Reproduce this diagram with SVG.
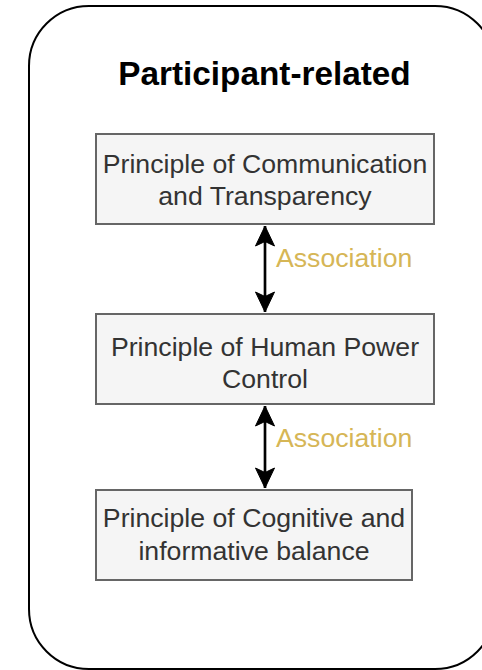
<svg xmlns="http://www.w3.org/2000/svg" width="482" height="670" viewBox="0 0 482 670">
<style>
.box{fill:#f5f5f5;stroke:#666666;stroke-width:2}
.t{font-family:"Liberation Sans",Arial,sans-serif;font-size:26.67px;fill:#333333;text-anchor:middle}
.lbl{font-family:"Liberation Sans",Arial,sans-serif;font-size:26.67px;fill:#d6b656}
.title{font-family:"Liberation Sans",Arial,sans-serif;font-size:33.3px;font-weight:bold;fill:#000000;text-anchor:middle}
.edge{stroke:#000000;stroke-width:2.67;fill:none}
</style>
<defs>
<marker id="ah" markerUnits="userSpaceOnUse" markerWidth="24" markerHeight="24" viewBox="0 0 24 24" refX="22" refY="12" orient="auto-start-reverse">
<path d="M22,12 L2,2.5 L6.5,12 L2,21.5 Z" fill="#000000" stroke="#000000" stroke-width="1"/>
</marker>
</defs>
<g id="container">
<rect x="29" y="6" width="466" height="663" rx="60" ry="60" fill="#ffffff" stroke="#000000" stroke-width="2"/>
<text class="title" x="264.5" y="85">Participant-related</text>
</g>
<g id="connectors">
<line class="edge" x1="265" y1="226" x2="265" y2="312" marker-start="url(#ah)" marker-end="url(#ah)"/>
<line class="edge" x1="265" y1="406" x2="265" y2="488" marker-start="url(#ah)" marker-end="url(#ah)"/>
<text class="lbl" x="276" y="267">Association</text>
<text class="lbl" x="276" y="447">Association</text>
</g>
<g id="node1">
<rect class="box" x="96" y="134" width="338" height="90"/>
<text class="t" x="265" y="172.5">Principle of Communication</text>
<text class="t" x="265" y="205">and Transparency</text>
</g>
<g id="node2">
<rect class="box" x="96" y="314" width="338" height="90"/>
<text class="t" x="265" y="356">Principle of Human Power</text>
<text class="t" x="265" y="388">Control</text>
</g>
<g id="node3">
<rect class="box" x="96" y="490" width="316" height="90"/>
<text class="t" x="254" y="527">Principle of Cognitive and</text>
<text class="t" x="254" y="560">informative balance</text>
</g>
</svg>
